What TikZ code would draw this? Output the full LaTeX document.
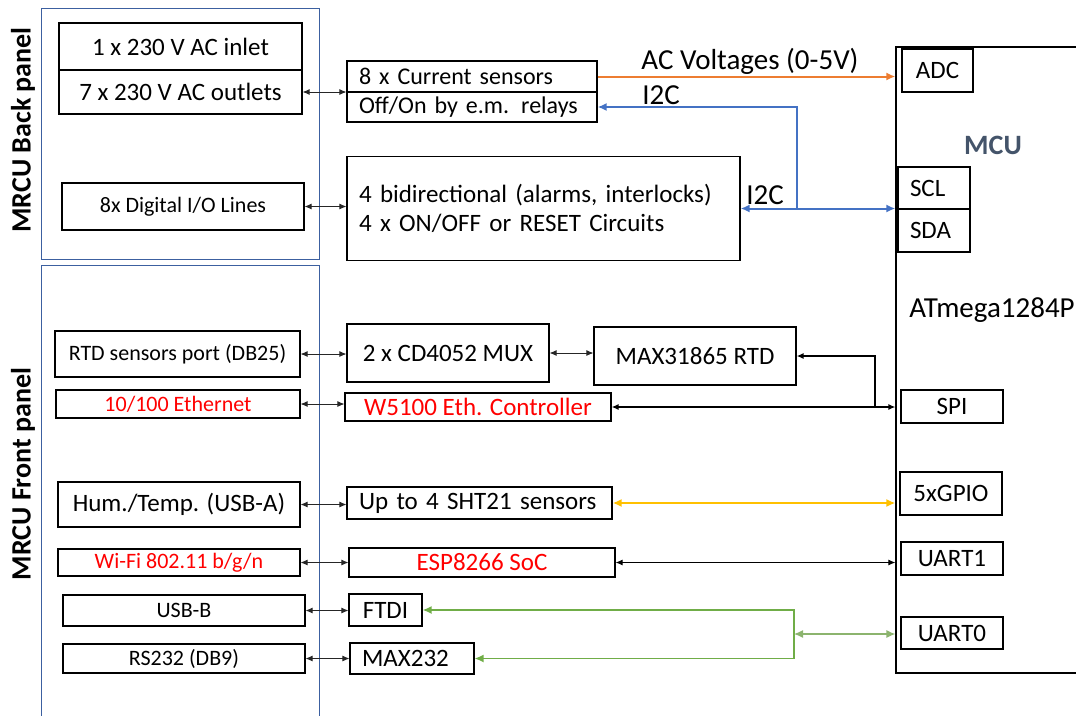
\documentclass[tikz,border=0pt]{standalone}
\usepackage{fontspec}
\setmainfont{Carlito}
\usetikzlibrary{arrows.meta,calc}
\definecolor{panelblue}{RGB}{60,96,160}
\definecolor{orng}{RGB}{237,125,49}
\definecolor{i2cblue}{RGB}{68,114,196}
\definecolor{ylw}{RGB}{255,192,0}
\definecolor{grn}{RGB}{112,173,71}
\definecolor{grnlt}{RGB}{140,180,110}
\definecolor{mcublue}{RGB}{68,84,106}
\definecolor{redtxt}{RGB}{255,0,0}
\tikzset{
  sm/.tip={Latex[length=7pt,width=6pt]},
  bg/.tip={Latex[length=9pt,width=8pt]},
}
\begin{document}
\begin{tikzpicture}[x=1pt,y=-1pt,
  box/.style={draw=black, line width=1.2pt, inner sep=0pt, font=\fontsize{25}{29}\selectfont},
  mbox/.style={box, font=\fontsize{24}{29}\selectfont},
  sbox/.style={box, font=\fontsize{22}{26}\selectfont},
  panel/.style={draw=panelblue, line width=1pt},
  conn/.style={draw=black!85, line width=0.8pt, sm-sm},
  lbl/.style={inner sep=0pt, font=\fontsize{29}{32}\selectfont},
  ptitle/.style={inner sep=0pt, rotate=90, font=\bfseries\fontsize{28}{30}\selectfont},
  redt/.style={text=redtxt},
]
\useasboundingbox (0,0) rectangle (1076,715);

% panels
\node[panel, minimum width=278pt, minimum height=251pt] (back) at (180,133.5) {};
\node[panel, minimum width=278pt, minimum height=460pt] (front) at (180,495) {};
\node[ptitle] (backlbl) at (23,130) {MRCU Back panel};
\node[ptitle] (frontlbl) at (23,474) {MRCU Front panel};

% back panel boxes
\node[box, minimum width=243pt, minimum height=47pt] (inlet) at (180.5,46.5) {1 x 230 V AC inlet};
\node[box, minimum width=243pt, minimum height=44pt] (outlets) at (180.5,92) {7 x 230 V AC outlets};
\node[sbox, minimum width=242pt, minimum height=47pt] (digio) at (183,206.5) {8x Digital I/O Lines};

% middle top
\node[mbox, minimum width=250pt, minimum height=31pt, text width=226pt, align=left] (cursens) at (472,76.5) {8 x Current sensors};
\node[mbox, minimum width=250pt, minimum height=30pt, text width=226pt, align=left] (relays) at (472,107) {Off/On by e.m. relays};
\node[box, minimum width=393pt, minimum height=104pt, text width=369pt, align=left] (bigbox) at (543.5,208.5) {4 bidirectional (alarms, interlocks)\\4 x ON/OFF or RESET Circuits};

% MCU
\node[box, minimum width=190pt, minimum height=626pt] (mcu) at (991,360) {};
\node[box, minimum width=71pt, minimum height=43pt] (adc) at (937.5,70.5) {ADC};
\node[box, minimum width=72pt, minimum height=42pt, text width=48pt, align=left] (scl) at (934,188) {SCL};
\node[box, minimum width=72pt, minimum height=43pt, text width=48pt, align=left] (sda) at (934,230.5) {SDA};
\node[box, minimum width=102pt, minimum height=33pt] (spi) at (952,406.5) {SPI};
\node[box, minimum width=102pt, minimum height=43pt] (gpio) at (951,493.5) {5xGPIO};
\node[box, minimum width=102pt, minimum height=33pt] (uart1) at (952,558.5) {UART1};
\node[box, minimum width=102pt, minimum height=32pt] (uart0) at (952,633) {UART0};
\node[inner sep=0pt, text=mcublue, font=\bfseries\fontsize{28}{30}\selectfont] (mculbl) at (993,145) {MCU};
\node[lbl] (atm) at (992,310) {ATmega1284P};

% front panel boxes
\node[sbox, minimum width=245pt, minimum height=46pt] (rtdport) at (177.5,354) {RTD sensors port (DB25)};
\node[sbox, redt, minimum width=244pt, minimum height=28pt] (eth) at (178,404) {10/100 Ethernet};
\node[box, minimum width=242pt, minimum height=45pt] (hum) at (179,504.5) {Hum./Temp. (USB-A)};
\node[sbox, redt, minimum width=242pt, minimum height=27pt] (wifi) at (179,562.5) {Wi-Fi 802.11 b/g/n};
\node[sbox, minimum width=242pt, minimum height=31pt] (usbb) at (184,610.5) {USB-B};
\node[sbox, minimum width=242pt, minimum height=29pt] (rs232) at (184,658.5) {RS232 (DB9)};

% middle front
\node[box, minimum width=202pt, minimum height=58pt] (mux) at (448,353) {2 x CD4052 MUX};
\node[box, minimum width=202pt, minimum height=58pt] (max31865) at (695,356) {MAX31865 RTD};
\node[box, redt, minimum width=266pt, minimum height=28pt] (w5100) at (478,407) {W5100 Eth. Controller};
\node[box, minimum width=265pt, minimum height=32pt, text width=241pt, align=left] (sht) at (479.5,503) {Up to 4 SHT21 sensors};
\node[box, redt, minimum width=266pt, minimum height=29pt] (esp) at (482,562.5) {ESP8266 SoC};
\node[box, minimum width=73pt, minimum height=32pt] (ftdi) at (385.5,610) {FTDI};
\node[box, minimum width=124pt, minimum height=31pt, text width=100pt, align=left] (max232) at (412,658.5) {MAX232};

% junction coordinates
\coordinate (i2cj) at (797,208.5);
\coordinate (spij) at (875,407);
\coordinate (gx) at (794,634);

% connectors back panel
\draw[conn] (outlets.east) -- (outlets.east -| relays.west);
\draw[conn] (digio.east) -- (digio.east -| bigbox.west);
\draw[orng, line width=2pt, -bg] (cursens.east) -- (cursens.east -| mcu.west);
\node[lbl] (acv) at (750,61) {AC Voltages (0-5V)};
\draw[i2cblue, line width=2pt, bg-bg] (bigbox.east) -- (bigbox.east -| mcu.west);
\draw[i2cblue, line width=2pt, -bg] (i2cj) |- (relays.east);
\node[lbl] (i2ca) at (661,95) {I2C};
\node[lbl] (i2cb) at (765,195) {I2C};

% connectors front panel
\draw[conn] (rtdport.east) -- (rtdport.east -| mux.west);
\draw[conn] (mux.east) -- (mux.east -| max31865.west);
\draw[conn] (eth.east) -- (eth.east -| w5100.west);
\draw[black, line width=1.3pt, sm-sm] (w5100.east) -- (w5100.east -| mcu.west);
\draw[black, line width=1.5pt, -sm] (spij) |- (max31865.east);
\draw[conn] (hum.east) -- (hum.east -| sht.west);
\draw[ylw, line width=2pt, bg-bg] (sht.east) -- (sht.east -| mcu.west);
\draw[conn] (wifi.east) -- (wifi.east -| esp.west);
\draw[black, line width=1pt, sm-sm] (esp.east) -- (esp.east -| mcu.west);
\draw[conn] (usbb.east) -- (usbb.east -| ftdi.west);
\draw[conn] (rs232.east) -- (rs232.east -| max232.west);
\draw[grn, line width=1.5pt, bg-bg] (ftdi.east) -| (gx) |- (max232.east);
\draw[grnlt, line width=1.2pt, bg-bg] (gx) -- (gx -| mcu.west);
\end{tikzpicture}
\end{document}
